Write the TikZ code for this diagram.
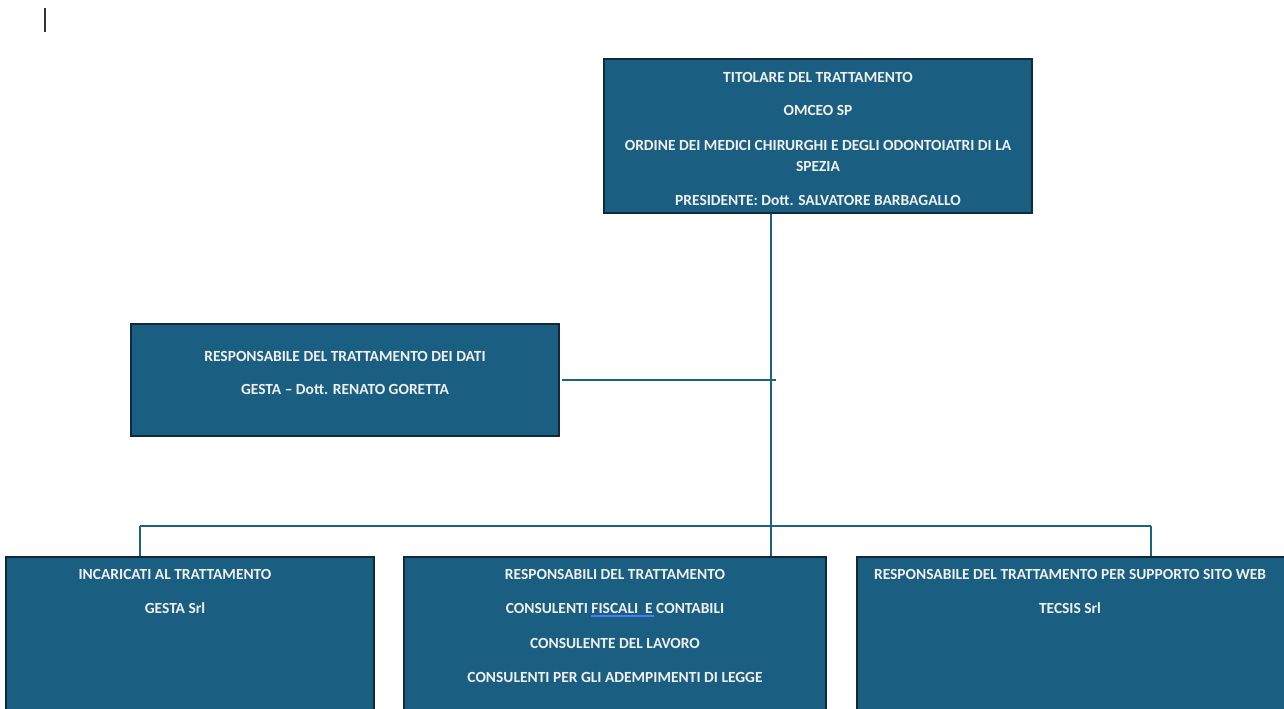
\documentclass[tikz,border=0pt]{standalone}
\usepackage{fontspec}
\setmainfont{Carlito}
\usetikzlibrary{positioning}

\definecolor{boxfill}{HTML}{1A5F81}
\definecolor{boxline}{HTML}{0E2A3C}
\definecolor{linkblue}{HTML}{1E6282}
\definecolor{spellblue}{HTML}{4A78FF}

\tikzset{
  orgbox/.style={draw=boxline, fill=boxfill, line width=1.1pt, inner sep=0pt},
  orgtext/.style={text=white!94!black, align=center, font=\fontsize{8.8}{12}\selectfont\bfseries},
  link/.style={draw=linkblue, line width=1.3pt}
}

\begin{document}
\begin{tikzpicture}[x=0.02cm, y=-0.02cm]
  \useasboundingbox (0,0) rectangle (1284,708);
  \clip (0,0) rectangle (1284,708);

  % cursor mark
  \draw[line width=0.8pt, black!80] (45,8) -- (45,32);

  % boxes
  \node[orgbox, minimum width=8.56cm, minimum height=3.08cm] (titolare) at (818,136) {};
  \node[orgbox, minimum width=8.56cm, minimum height=2.24cm] (responsabile) at (345,380) {};
  \node[orgbox, minimum width=7.36cm, minimum height=4cm, anchor=north] (incaricati) at (190,556) {};
  \node[orgbox, minimum width=8.44cm, minimum height=4cm, anchor=north] (consulenti) at (615,556) {};
  \node[orgbox, minimum width=8.8cm, minimum height=4cm, anchor=north] (sitoweb) at (1077,556) {};

  % texts
  \node[orgtext, anchor=north] (titolaretxt) at (818,66)
    {TITOLARE DEL TRATTAMENTO\\[7pt]
     OMCEO SP\\[8pt]
     ORDINE DEI MEDICI CHIRURGHI E DEGLI ODONTOIATRI DI LA\\
     SPEZIA\\[7pt]
     PRESIDENTE: Dott. SALVATORE BARBAGALLO};
  \node[orgtext, anchor=north] (responsabiletxt) at (345,345)
    {RESPONSABILE DEL TRATTAMENTO DEI DATI\\[7pt]
     GESTA -- Dott. RENATO GORETTA};
  \node[orgtext, anchor=north] (incaricatitxt) at (175,563)
    {INCARICATI AL TRATTAMENTO\\[7.5pt]
     GESTA Srl};
  \node[orgtext, anchor=north] (consulentitxt) at (615,563)
    {RESPONSABILI DEL TRATTAMENTO\\[7.6pt]
     CONSULENTI \rlap{\color{spellblue}\rule[-1.6pt]{12.6mm}{0.7pt}}FISCALI\ \ E CONTABILI\\[7.6pt]
     CONSULENTE DEL LAVORO\\[7.6pt]
     CONSULENTI PER GLI ADEMPIMENTI DI LEGGE};
  \node[orgtext, anchor=north] (sitowebtxt) at (1070,563)
    {RESPONSABILE DEL TRATTAMENTO PER SUPPORTO SITO WEB\\[7.6pt]
     TECSIS Srl};

  % connectors
  \coordinate (bus) at (771,526);
  \coordinate (mid) at (776,380);
  \draw[link] (titolare.south -| bus) -- (consulenti.north -| bus);
  \draw[link] (responsabile.east) ++(2,0) -- (mid);
  \draw[link] (140,526) -- (1151,526);
  \draw[link] (140,526) -- (incaricati.north -| 140,0);
  \draw[link] (1151,526) -- (sitoweb.north -| 1151,0);
\end{tikzpicture}
\end{document}
